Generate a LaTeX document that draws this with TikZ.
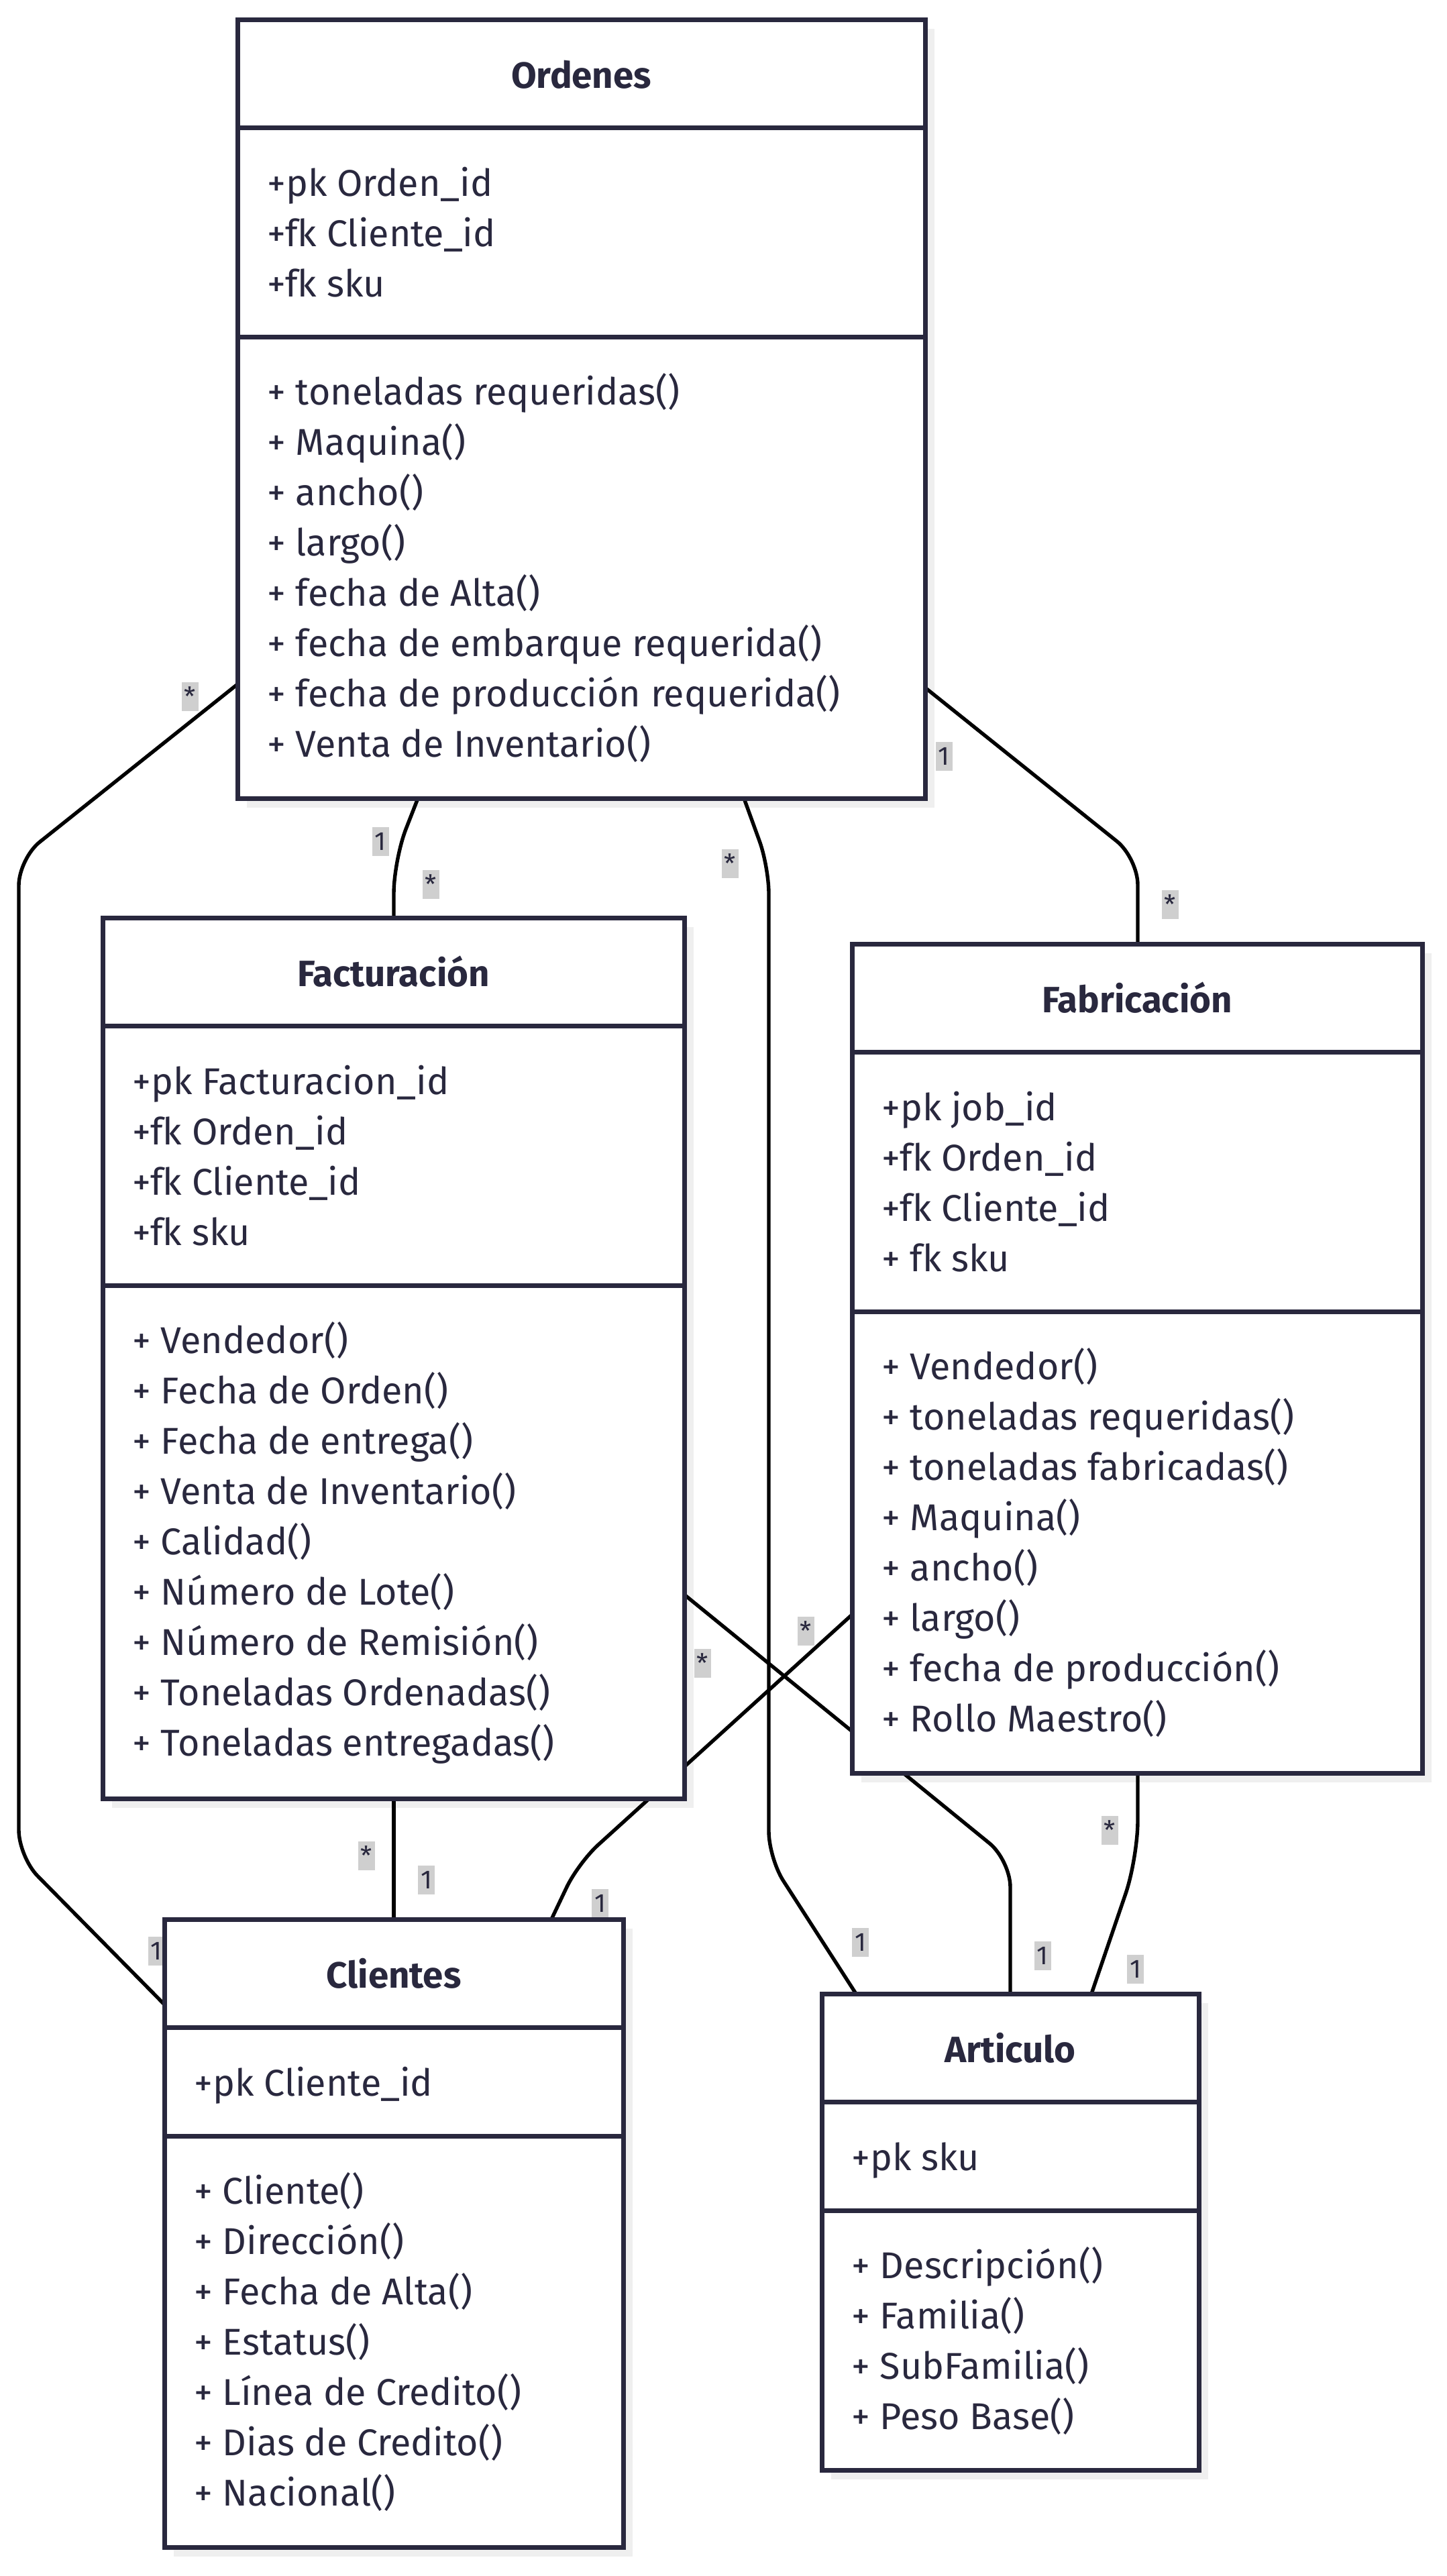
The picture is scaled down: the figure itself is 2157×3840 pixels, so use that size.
\documentclass[tikz,border=0pt]{standalone}
\usepackage{fontspec}
\setmainfont{Fira Sans}
\usetikzlibrary{calc}
\definecolor{ink}{HTML}{29283E}
\definecolor{shade}{HTML}{EFEFEF}
\definecolor{lblgray}{HTML}{CFCFCF}
\pgfdeclarelayer{shadowlayer}
\pgfdeclarelayer{edgelayer}
\pgfsetlayers{shadowlayer,edgelayer,main}
\tikzset{
  umlbox/.style={draw=ink, line width=3.5pt, fill=white, rectangle, anchor=north west, inner sep=0pt, outer sep=0pt},
  shadefill/.style={fill=shade, draw=none},
  member/.style={anchor=base west, inner sep=0pt, text=ink, font=\fontsize{27.8}{32}\selectfont},
  boxtitle/.style={anchor=base, inner sep=0pt, text=ink, font=\fontsize{27.3}{32}\selectfont\bfseries},
  divider/.style={draw=ink, line width=3.5pt},
  conn/.style={draw=black, line width=2.7pt, rounded corners=20pt},
  mult/.style={fill=lblgray, text=ink, inner sep=0pt, minimum width=12.5pt, minimum height=21.5pt, font=\fontsize{19.5}{21}\selectfont},
}
\begin{document}
\begin{tikzpicture}[x=0.5pt,y=-0.5pt]
\useasboundingbox (0,0) rectangle (2157,3840);

% ---------- boxes ----------
\node[umlbox, minimum width=512.5pt, minimum height=580.5pt] (ord) at (354,29) {};
\node[umlbox, minimum width=433.5pt, minimum height=656.5pt] (fac) at (153,1368) {};
\node[umlbox, minimum width=425pt, minimum height=618pt] (fab) at (1270,1407) {};
\node[umlbox, minimum width=342pt, minimum height=468pt] (cli) at (245,2861) {};
\node[umlbox, minimum width=281pt, minimum height=355pt] (art) at (1225,2972) {};

% ---------- shadows ----------
\begin{pgfonlayer}{shadowlayer}
\foreach \b in {ord,fac,fab,cli,art}
  \fill[shadefill] ([shift={(14,14)}]\b.north west) rectangle ([shift={(14,14)}]\b.south east);
\end{pgfonlayer}

% ---------- dividers ----------
\draw[divider] (ord.west |- 0,190) -- (ord.east |- 0,190);
\draw[divider] (ord.west |- 0,502) -- (ord.east |- 0,502);
\draw[divider] (fac.west |- 0,1529) -- (fac.east |- 0,1529);
\draw[divider] (fac.west |- 0,1916) -- (fac.east |- 0,1916);
\draw[divider] (fab.west |- 0,1568) -- (fab.east |- 0,1568);
\draw[divider] (fab.west |- 0,1955) -- (fab.east |- 0,1955);
\draw[divider] (cli.west |- 0,3022) -- (cli.east |- 0,3022);
\draw[divider] (cli.west |- 0,3184) -- (cli.east |- 0,3184);
\draw[divider] (art.west |- 0,3133) -- (art.east |- 0,3133);
\draw[divider] (art.west |- 0,3295) -- (art.east |- 0,3295);

% ---------- texts ----------
\node[boxtitle] (ordT) at (866.5,131) {Ordenes};
\foreach [count=\k from 0] \t in {+pk Orden\_id,+fk Cliente\_id,+fk sku}
  \node[member] (ordA\k) at (398,{292+75.1*\k}) {\t};
\foreach [count=\k from 0] \t in {+ toneladas requeridas(),+ Maquina(),+ ancho(),+ largo(),+ fecha de Alta(),+ fecha de embarque requerida(),+ fecha de producción requerida(),+ Venta de Inventario()}
  \node[member] (ordM\k) at (398,{603+75.1*\k}) {\t};

\node[boxtitle] (facT) at (586.5,1470) {Facturación};
\foreach [count=\k from 0] \t in {+pk Facturacion\_id,+fk Orden\_id,+fk Cliente\_id,+fk sku}
  \node[member] (facA\k) at (197,{1631+75.1*\k}) {\t};
\foreach [count=\k from 0] \t in {+ Vendedor(),+ Fecha de Orden(),+ Fecha de entrega(),+ Venta de Inventario(),+ Calidad(),+ Número de Lote(),+ Número de Remisión(),+ Toneladas Ordenadas(),+ Toneladas entregadas()}
  \node[member] (facM\k) at (197,{2017+75.1*\k}) {\t};

\node[boxtitle] (fabT) at (1695,1509) {Fabricación};
\foreach [count=\k from 0] \t in {+pk job\_id,+fk Orden\_id,+fk Cliente\_id,+ fk sku}
  \node[member] (fabA\k) at (1314,{1670+75.1*\k}) {\t};
\foreach [count=\k from 0] \t in {+ Vendedor(),+ toneladas requeridas(),+ toneladas fabricadas(),+ Maquina(),+ ancho(),+ largo(),+ fecha de producción(),+ Rollo Maestro()}
  \node[member] (fabM\k) at (1314,{2056+75.1*\k}) {\t};

\node[boxtitle] (cliT) at (587,2963) {Clientes};
\node[member] (cliA0) at (289,3124) {+pk Cliente\_id};
\foreach [count=\k from 0] \t in {+ Cliente(),+ Dirección(),+ Fecha de Alta(),+ Estatus(),+ Línea de Credito(),+ Dias de Credito(),+ Nacional()}
  \node[member] (cliM\k) at (289,{3285+75.1*\k}) {\t};

\node[boxtitle] (artT) at (1506,3074) {Articulo};
\node[member] (artA0) at (1269,3235) {+pk sku};
\foreach [count=\k from 0] \t in {+ Descripción(),+ Familia(),+ SubFamilia(),+ Peso Base()}
  \node[member] (artM\k) at (1269,{3396+75.1*\k}) {\t};

% ---------- connectors and multiplicities ----------
\begin{pgfonlayer}{edgelayer}
\draw[conn] (ord.west |- 0,1020) -- (28,1280) -- (28,2768) -- (cli.west |- 0,2988);
\draw[conn, rounded corners=25pt] (ord.south -| 623,0) -- (587,1282) -- (fac.north -| 587,0);
\draw[conn] (ord.south -| 1109,0) -- (1146,1292) -- (1146,2770) -- (art.north -| 1276,0);
\draw[conn] (ord.east |- 0,1025) -- (1696,1279) -- (fab.north -| 1696,0);
\draw[conn] (fac.east |- 0,2377) -- (1506,2773) -- (art.north -| 1506,0);
\draw[conn] (fab.west |- 0,2407) -- (862,2777) -- (cli.north -| 822,0);
\draw[conn] (fac.south -| 587,0) -- (cli.north -| 587,0);
\draw[conn, rounded corners=28pt] (fab.south -| 1696,0) -- (1696,2770) -- (art.north -| 1627,0);

\node[mult] (m1a) at (283.5,1038.5) {*};
\node[mult] (m1b) at (233,2908) {1};
\node[mult] (m2a) at (567,1254.5) {1};
\node[mult] (m2b) at (642,1318) {*};
\node[mult] (m3a) at (1088,1287) {*};
\node[mult] (m3b) at (1282.5,2895.5) {1};
\node[mult] (m4a) at (1407,1127) {1};
\node[mult] (m4b) at (1744.5,1348) {*};
\node[mult] (m5a) at (1047.5,2479.5) {*};
\node[mult] (m5b) at (1554,2915) {1};
\node[mult] (m6a) at (1201,2431) {*};
\node[mult] (m6b) at (894.5,2837.5) {1};
\node[mult] (m7a) at (546,2766) {*};
\node[mult] (m7b) at (635.5,2802) {1};
\node[mult] (m8a) at (1654,2728.5) {*};
\node[mult] (m8b) at (1692.5,2935.5) {1};
\end{pgfonlayer}
\end{tikzpicture}
\end{document}
